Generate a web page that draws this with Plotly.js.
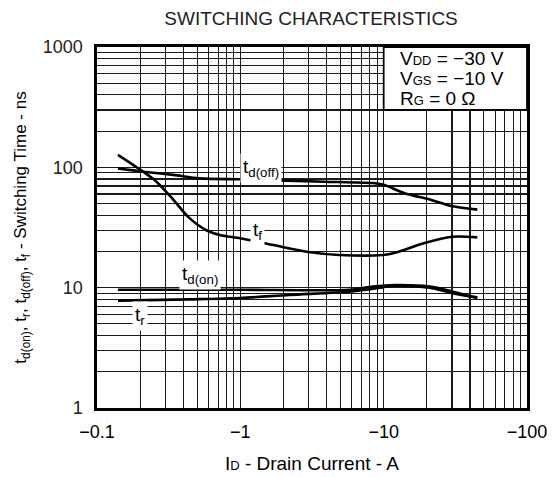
<!DOCTYPE html>
<html>
<head>
<meta charset="utf-8">
<script src="https://cdn.plot.ly/plotly-3.0.1.min.js"></script>
<style>html,body{margin:0;padding:0;background:#fff;}#chart{width:553px;height:477px;}</style>
</head>
<body>
<div id="chart"></div>
<script>
// Drain current (A) and switching times (ns)
const tdoffCurrent = [-0.14, -0.21, -0.34, -0.52, -1.0, -2.1, -3.8, -8.4, -10, -14, -21, -29, -45];
const tdoffTime    = [98, 92, 86.5, 81, 79.5, 77.5, 76, 74, 71.5, 61, 54, 48, 44.5];

const tfCurrent = [-0.14, -0.21, -0.26, -0.34, -0.44, -0.58, -0.72, -1.0, -1.7, -2.9, -4.9, -9.9, -12, -19, -30, -45];
const tfTime    = [127, 92, 76, 54, 38, 30, 27.4, 25.7, 22.6, 19.9, 18.7, 18.7, 19.5, 23.4, 26.5, 26.2];

const tdonCurrent = [-0.14, -1, -5.8, -8.4, -12, -21, -30, -45];
const tdonTime    = [9.6, 9.6, 9.6, 10.2, 10.5, 10.2, 9.3, 8.2];

const trCurrent = [-0.14, -0.44, -1, -2.2, -6, -10, -12, -21, -30, -45];
const trTime    = [7.8, 8.0, 8.2, 8.7, 9.3, 10.1, 10.4, 10.0, 9.0, 8.3];

const xDecades = [0.1, 1, 10, 100];
const xTickText = ['−0.1', '−1', '−10', '−100'];
const yDecades = [1, 10, 100, 1000];
const yTickText = ['1', '10', '100', '1000'];

const SUB = s => '<span style="font-size:13px">' + s + '</span>';
const conditions = ['V' + SUB('DD') + ' = −30 V', 'V' + SUB('GS') + ' = −10 V', 'R' + SUB('G') + ' = 0 Ω'];

// curve labels: [text, current (A), time (ns)]
const curveLabels = [
  ['t<sub>d(off)</sub>', -1.4, 99],
  ['t<sub>f</sub>', -1.32, 29.6],
  ['t<sub>d(on)</sub>', -0.52, 12.7],
  ['t<sub>r</sub>', -0.198, 5.85]
];

// full log grid: decades labelled, 2..9 unlabelled
function gridTicks(decades, labels) {
  const vals = [], text = [];
  decades.forEach((d, i) => {
    vals.push(d); text.push(labels[i]);
    if (i < decades.length - 1) {
      for (let k = 2; k <= 9; k++) { vals.push(k * d); text.push(''); }
    }
  });
  return {vals, text};
}
const xg = gridTicks(xDecades, xTickText);
const yg = gridTicks(yDecades, yTickText);

const FONT = 'Liberation Sans, Arial, sans-serif';
const GRID = '#1a1a1a';

function trace(cur, t) {
  return {
    x: cur.map(Math.abs), y: t, type: 'scatter', mode: 'lines',
    line: {color: '#000', width: 2.6, shape: 'spline', smoothing: 0.8},
    hoverinfo: 'skip', showlegend: false
  };
}

const data = [
  trace(tdoffCurrent, tdoffTime),
  trace(tfCurrent, tfTime),
  trace(tdonCurrent, tdonTime),
  trace(trCurrent, trTime)
];

const annotations = curveLabels.map(l => ({
  text: l[0], x: Math.log10(Math.abs(l[1])), y: Math.log10(l[2]),
  xref: 'x', yref: 'y', showarrow: false,
  font: {family: FONT, size: 19, color: '#000'},
  bgcolor: '#fff', borderpad: 2
}));

const condY = [0.9695, 0.914, 0.856];
conditions.forEach((c, i) => annotations.push({
  text: c, xref: 'paper', yref: 'paper', x: 0.7, y: condY[i],
  xanchor: 'left', yanchor: 'middle', showarrow: false,
  font: {family: FONT, size: 19, color: '#000'}
}));

const layout = {
  width: 553, height: 477,
  margin: {l: 97, r: 26, t: 47, b: 69},
  paper_bgcolor: '#fff', plot_bgcolor: '#fff',
  font: {family: FONT, color: '#000'},
  title: {
    text: 'SWITCHING CHARACTERISTICS',
    font: {family: FONT, size: 19, color: '#222'},
    x: 0.5625, xanchor: 'center', y: 0.962, yanchor: 'middle'
  },
  xaxis: {
    type: 'log', range: [-1, 2],
    tickmode: 'array', tickvals: xg.vals, ticktext: xg.text,
    tickfont: {family: FONT, size: 18, color: '#000'},
    ticks: '', ticklabelstandoff: 6,
    showgrid: true, gridcolor: GRID, gridwidth: 1.2,
    showline: true, linecolor: '#000', linewidth: 2.6, mirror: true,
    zeroline: false,
    title: {text: 'I' + SUB('D') + ' - Drain Current - A', font: {family: FONT, size: 19, color: '#000'}, standoff: 16}
  },
  yaxis: {
    type: 'log', range: [0, 3],
    tickmode: 'array', tickvals: yg.vals, ticktext: yg.text,
    tickfont: {family: FONT, size: 18, color: '#222'},
    ticks: '', ticklabelstandoff: 8,
    showgrid: true, gridcolor: GRID, gridwidth: 1.2,
    showline: true, linecolor: '#000', linewidth: 2.6, mirror: true,
    zeroline: false,
    title: {text: 't<sub>d(on)</sub>, t<sub>r</sub>, t<sub>d(off)</sub>, t<sub>f</sub> - Switching Time - ns', font: {family: FONT, size: 17, color: '#000'}, standoff: 12}
  },
  shapes: [{
    type: 'rect', xref: 'paper', yref: 'paper',
    x0: 2 / 3, x1: 1, y0: Math.log10(300) / 3, y1: 1,
    fillcolor: '#fff', line: {color: '#000', width: 1.8}, layer: 'above'
  }],
  annotations: annotations
};

Plotly.newPlot('chart', data, layout, {displayModeBar: false, staticPlot: true});
</script>
</body>
</html>
